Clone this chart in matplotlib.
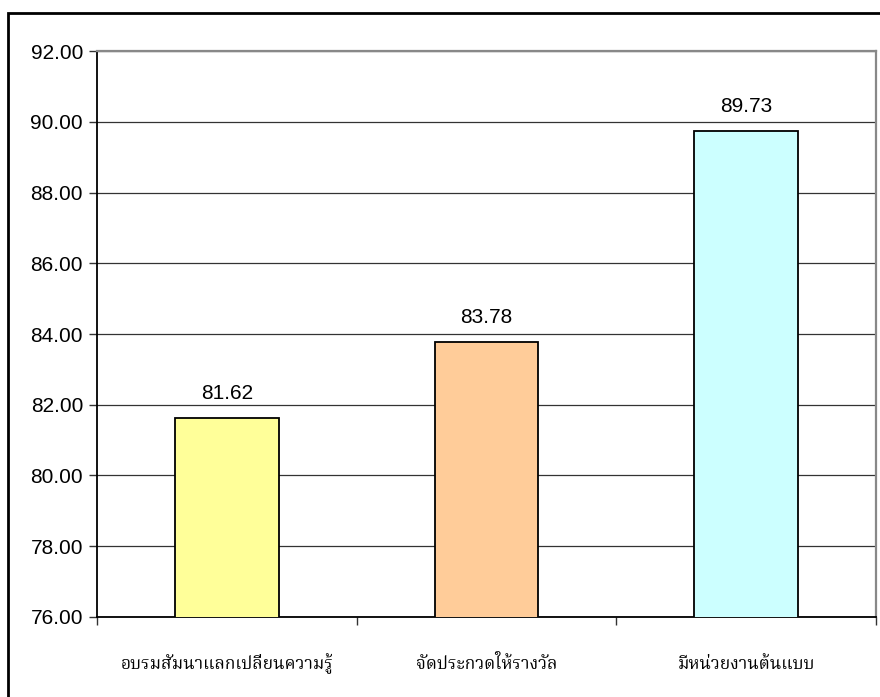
import numpy as np
import matplotlib
matplotlib.use("Agg")
import matplotlib.pyplot as plt
from matplotlib import font_manager
from matplotlib.ft2font import FT2Font
from matplotlib.patches import Rectangle

categories = ['อบรมสัมนาแลกเปลี่ยนความรู้', 'จัดประกวดให้รางวัล', 'มีหน่วยงานต้นแบบ']
values = [81.62, 83.78, 89.73]
bar_colors = ['#FFFF99', '#FFCC99', '#CCFFFF']
yticks = np.arange(76, 93, 2)


# look for an installed font that has Thai glyphs
def find_thai_font():
    found = []
    for f in font_manager.fontManager.ttflist:
        try:
            cmap = FT2Font(f.fname).get_charmap()
        except Exception:
            continue
        if 0x0E2D in cmap and 0x0E31 in cmap:
            found.append(f.name)
    prefer = ['Norasi', 'TH Sarabun New', 'Noto Serif Thai', 'Laksaman', 'Loma', 'Garuda', 'Noto Sans Thai']
    for p in prefer:
        if p in found:
            return p
    return found[0] if found else None


thai_font = find_thai_font()
thai_family = [thai_font, 'DejaVu Sans'] if thai_font else ['DejaVu Sans']

plt.rcParams['font.family'] = ['Liberation Sans', 'DejaVu Sans']

fig = plt.figure(figsize=(8.8, 6.97), dpi=100)
ax = fig.add_axes([0.1102, 0.1148, 0.8853, 0.812])

x = np.arange(len(values))
ax.bar(x, values, width=0.4, color=bar_colors, edgecolor='black', linewidth=1.3, zorder=3)

for xi, v in zip(x, values):
    ax.text(xi, v + 0.42, '%.2f' % v, ha='center', va='bottom', fontsize=15, color='black')

ax.set_ylim(76, 92)
ax.set_xlim(-0.5, 2.5)
ax.set_yticks(yticks)
ax.set_yticklabels(['%.2f' % t for t in yticks], fontsize=15)
ax.yaxis.grid(True, color='#333333', linewidth=0.9, zorder=0)
ax.set_axisbelow(True)

ax.set_xticks([-0.5, 0.5, 1.5, 2.5])
ax.set_xticklabels([])
ax.tick_params(axis='both', direction='out', length=6, width=1, color='#333333')
ax.tick_params(axis='y', pad=4)

for xi, name in zip(x, categories):
    ax.text(xi, -0.083, name, transform=ax.get_xaxis_transform(), ha='center', va='center',
            fontsize=12.5, family=thai_family, color='black')

ax.spines['left'].set_color('black')
ax.spines['left'].set_linewidth(1.3)
ax.spines['bottom'].set_color('black')
ax.spines['bottom'].set_linewidth(1.3)
ax.spines['top'].set_color('#888888')
ax.spines['top'].set_linewidth(1.6)
ax.spines['right'].set_color('#888888')
ax.spines['right'].set_linewidth(1.6)

# outer chart frame, runs off the right and bottom edges
fig.patches.append(Rectangle((8 / 880, -0.1), 1.5, 0.1 + (1 - 13 / 697),
                             transform=fig.transFigure, fill=False, edgecolor='black',
                             linewidth=2, zorder=10))

fig.savefig('out.png', dpi=100)
